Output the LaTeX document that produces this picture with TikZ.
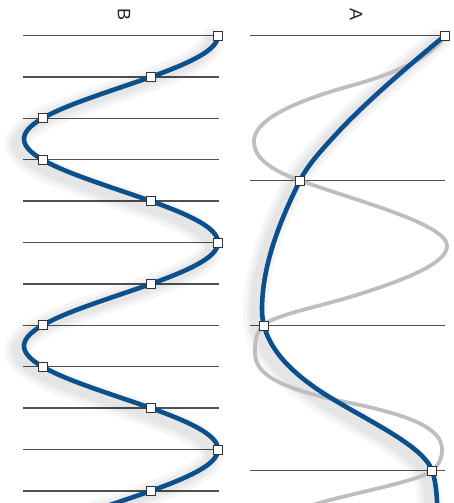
\documentclass[tikz,border=0pt]{standalone}
\usepackage{fontspec}
\setmainfont{Liberation Sans}
\definecolor{linegray}{HTML}{505050}
\definecolor{curveblue}{HTML}{0B4F8C}
\definecolor{curvegray}{HTML}{BEBEBE}
\definecolor{sqborder}{HTML}{333333}
\begin{document}
\begin{tikzpicture}[x=1pt,y=-1pt,
  gridline/.style={draw=linegray, line width=1.4pt},
  bluecurve/.style={draw=curveblue, line width=4.6pt, line cap=round},
  graycurve/.style={draw=curvegray, line width=3.8pt, line cap=round},
  softshadow/.style={draw=black, opacity=0.035, line width=#1, line cap=round},
  sample/.style={draw=sqborder, fill=white, line width=0.9pt, minimum size=9pt, inner sep=0pt, rectangle},
  lab/.style={rotate=-90, font=\fontsize{18}{18}\selectfont, text=black!85}
]
\path[use as bounding box] (0,0) rectangle (454,503);

% ---------- panel B grid lines ----------
\foreach \k in {0,...,11}{
  \coordinate (bl\k) at (23,{35.5+41.4*\k});
  \coordinate (br\k) at (219,{35.5+41.4*\k});
  \draw[gridline] (bl\k) -- (br\k);
}
% ---------- panel A grid lines ----------
\foreach \k in {0,...,3}{
  \coordinate (al\k) at (250,{35.5+145*\k});
  \coordinate (ar\k) at (445,{35.5+145*\k});
  \draw[gridline] (al\k) -- (ar\k);
}

% ---------- soft shadows ----------
\begin{scope}[shift={(-7,5)}]
  \foreach \w in {24pt,16pt,10pt}{
    \draw[softshadow=\w] plot[domain=35.5:540, samples=260] ({121+97*cos((\x-35.5)*1.73913)},{\x});
    \draw[softshadow=\w] (445,35.5) .. controls (407.2,67) and (369.9,98.5) .. (340,130)
      .. controls (324,147.3) and (308.4,163.7) .. (300,180.5)
      .. controls (278.4,223.7) and (262,266.8) .. (262,310)
      .. controls (262,337.7) and (280.1,365.3) .. (323,393)
      .. controls (363,418.8) and (423,444.7) .. (432,470.5)
      .. controls (437.2,485.3) and (436.5,500.2) .. (438,515);
  }
\end{scope}

% ---------- gray (true signal) in panel A ----------
\draw[graycurve] (445,35.5) .. controls (434.9,52.3) and (410.6,69.2) .. (350,86)
  .. controls (284,104.3) and (254,122.7) .. (254,141)
  .. controls (254,154.2) and (263.1,167.3) .. (300,180.5)
  .. controls (361.1,202.3) and (447,224.2) .. (447,246)
  .. controls (447,263) and (406.1,280) .. (350,297)
  .. controls (318.7,306.5) and (271.6,316) .. (263,325.5)
  .. controls (255.1,334.3) and (255,343.2) .. (255,352)
  .. controls (255,369) and (265,386) .. (350,403)
  .. controls (428.3,418.7) and (442,434.3) .. (442,450)
  .. controls (442,456.8) and (440.2,463.7) .. (432,470.5)
  .. controls (419.4,481) and (359.8,491.5) .. (323,502)
  -- (288,512);

% ---------- blue (alias) in panel A ----------
\draw[bluecurve] (445,35.5) .. controls (407.2,67) and (369.9,98.5) .. (340,130)
  .. controls (324,147.3) and (308.4,163.7) .. (300,180.5)
  .. controls (278.4,223.7) and (262,266.8) .. (262,310)
  .. controls (262,337.7) and (280.1,365.3) .. (323,393)
  .. controls (363,418.8) and (423,444.7) .. (432,470.5)
  .. controls (437.2,485.3) and (436.5,500.2) .. (438,515);

% ---------- blue signal in panel B ----------
\draw[bluecurve] plot[domain=35.5:540, samples=260] ({121+97*cos((\x-35.5)*1.73913)},{\x});

% ---------- sample squares B ----------
\foreach \k/\xv in {0/218,1/151,2/42.5,3/42.5,4/151,5/218,6/151,7/42.5,8/42.5,9/151,10/218,11/151}{
  \node[sample] (b\k) at (\xv,{35.5+41.4*\k}) {};
}
% ---------- sample squares A ----------
\node[sample] (a0) at (445,35.5) {};
\node[sample] (a1) at (300,180.5) {};
\node[sample] (a2) at (263.5,325.5) {};
\node[sample] (a3) at (432,470.5) {};

% ---------- labels ----------
\node[lab] (labB) at (124,15) {B};
\node[lab] (labA) at (356,15) {A};
\end{tikzpicture}
\end{document}
